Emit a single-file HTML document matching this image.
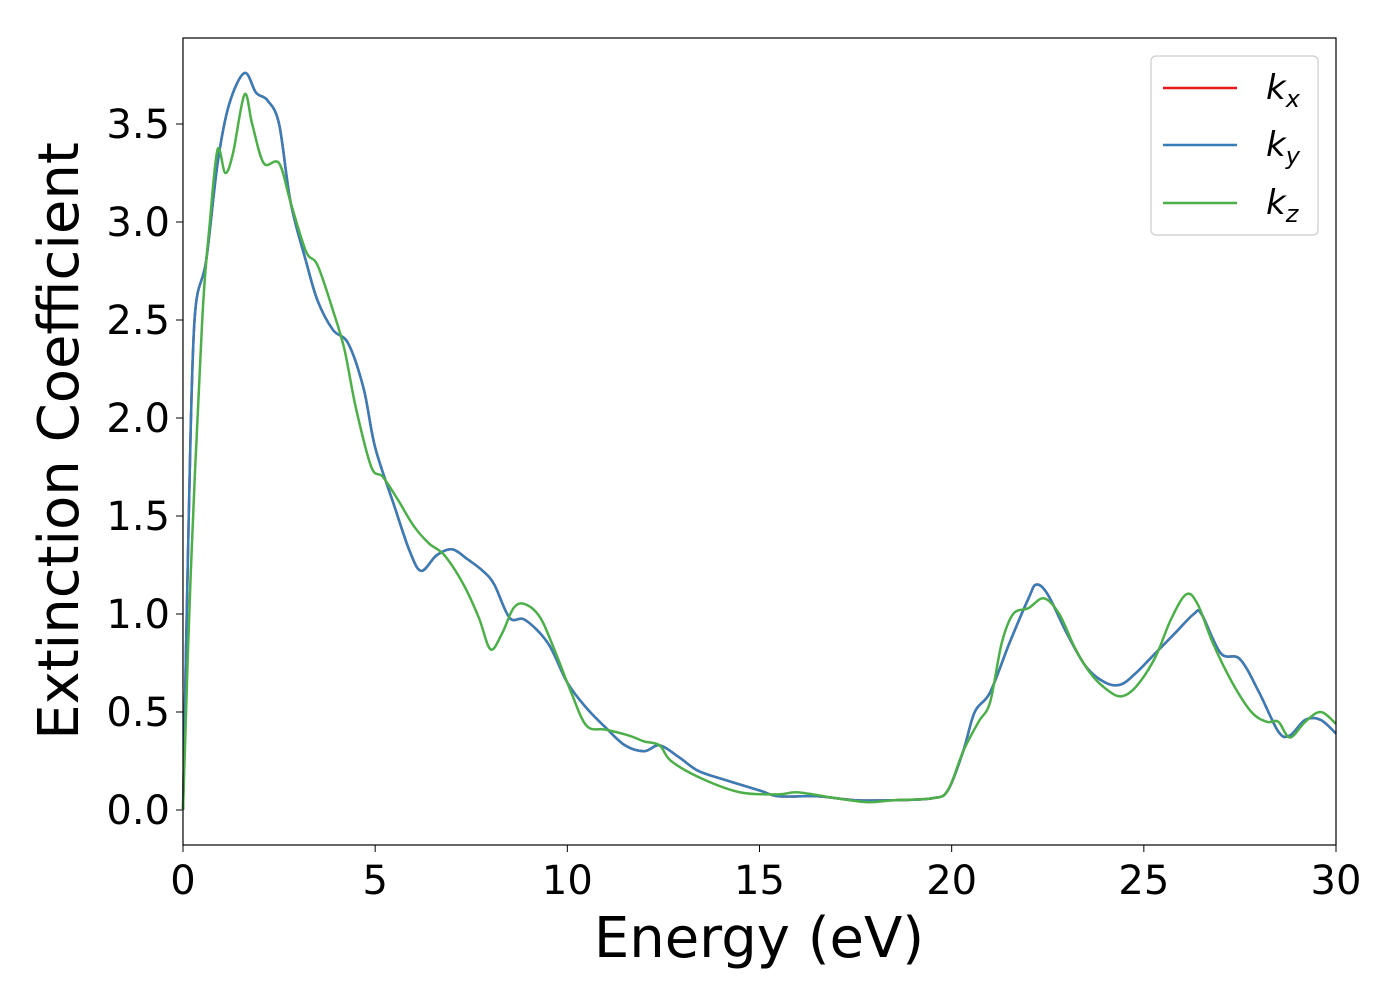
<!DOCTYPE html>
<html><head><meta charset="utf-8"><style>
html,body{margin:0;padding:0;background:#fff;}
svg text{font-family:"DejaVu Sans","Liberation Sans",sans-serif;}
</style></head><body>
<svg width="1400" height="1000" xmlns="http://www.w3.org/2000/svg" id="chart">
<rect width="1400" height="1000" fill="#fff"/>
<g id="ticks"></g>
<g id="series"></g>
<rect x="183" y="38" width="1153" height="807" fill="none" stroke="#000" stroke-width="1.2"/>
<text x="759" y="957" font-size="56" text-anchor="middle">Energy (eV)</text>
<text transform="translate(78,441) rotate(-90)" font-size="56" text-anchor="middle">Extinction Coefficient</text>
<g>
<rect x="1151" y="56" width="167" height="179" rx="5" fill="#fff" stroke="#ccc" stroke-width="1.2"/>
<line x1="1163" y1="88" x2="1237" y2="88" stroke="#e41a1c" stroke-width="2.5"/>
<text x="1266" y="99" font-size="34" font-style="italic">k<tspan font-size="24" dy="8">x</tspan></text>
<line x1="1163" y1="145" x2="1237" y2="145" stroke="#377eb8" stroke-width="2.5"/>
<text x="1266" y="156" font-size="34" font-style="italic">k<tspan font-size="24" dy="8">y</tspan></text>
<line x1="1163" y1="203" x2="1237" y2="203" stroke="#4daf4a" stroke-width="2.5"/>
<text x="1266" y="214" font-size="34" font-style="italic">k<tspan font-size="24" dy="8">z</tspan></text>
</g>
</svg>
<script>
const xTicks=[0,5,10,15,20,25,30];
const yTicks=[0.0,0.5,1.0,1.5,2.0,2.5,3.0,3.5];
const energyXY=[0,0.15,0.3,0.6,0.9,1.2,1.6,1.9,2.2,2.5,2.8,3.2,3.5,3.9,4.3,4.7,5.0,5.5,5.9,6.2,6.6,7.0,7.4,7.8,8.1,8.5,8.9,9.5,10.0,10.5,11.0,11.5,12.0,12.4,12.9,13.4,14.0,15.0,15.5,16.5,17.5,18.5,19.5,19.9,20.3,20.6,21.0,21.5,22.0,22.2,22.5,23.0,23.5,24.0,24.4,24.8,25.3,25.8,26.3,26.5,27.0,27.5,28.0,28.5,28.8,29.2,29.6,30];
const kx=[0,1.5,2.5,2.8,3.3,3.6,3.76,3.66,3.62,3.5,3.1,2.8,2.6,2.45,2.38,2.15,1.85,1.55,1.32,1.22,1.3,1.33,1.28,1.22,1.15,0.98,0.97,0.85,0.65,0.52,0.42,0.33,0.3,0.33,0.27,0.2,0.16,0.1,0.07,0.07,0.05,0.05,0.06,0.1,0.3,0.5,0.6,0.85,1.08,1.15,1.1,0.9,0.73,0.65,0.64,0.7,0.8,0.9,1.0,1.0,0.8,0.77,0.6,0.4,0.38,0.46,0.46,0.39];
const ky=kx.slice();
const energyZ=[0,0.2,0.5,0.7,0.9,1.1,1.3,1.6,1.8,2.1,2.5,2.8,3.2,3.5,3.9,4.2,4.5,4.9,5.2,5.6,6.0,6.4,6.8,7.3,7.7,8.0,8.3,8.6,8.9,9.3,9.7,10.1,10.5,11.0,11.6,12.0,12.4,12.7,13.5,14.5,15.5,16.0,17.0,17.8,18.5,19.5,19.9,20.3,20.7,21.0,21.3,21.6,22.0,22.4,22.8,23.2,23.6,24.0,24.4,24.8,25.3,25.7,26.1,26.4,26.8,27.3,27.8,28.2,28.5,28.8,29.2,29.6,30];
const kz=[0,1.2,2.5,3.0,3.37,3.25,3.35,3.65,3.5,3.3,3.3,3.1,2.85,2.78,2.55,2.35,2.05,1.75,1.7,1.58,1.45,1.36,1.3,1.15,0.98,0.82,0.9,1.03,1.05,0.98,0.8,0.6,0.43,0.41,0.38,0.35,0.33,0.25,0.16,0.09,0.08,0.09,0.06,0.04,0.05,0.06,0.1,0.3,0.45,0.55,0.85,1.0,1.03,1.08,1.0,0.83,0.7,0.62,0.58,0.63,0.78,0.97,1.1,1.05,0.85,0.65,0.5,0.45,0.45,0.37,0.45,0.5,0.44];
const NS='http://www.w3.org/2000/svg';
function sx(v){return 183+v*(1153/30);}
function sy(v){return 810-v*196;}
const tg=document.getElementById('ticks');
xTicks.forEach(t=>{
 const l=document.createElementNS(NS,'line');
 
 
 l.setAttribute('x1',sx(t));l.setAttribute('x2',sx(t));l.setAttribute('y1',845);l.setAttribute('y2',852);l.setAttribute('stroke','#000');tg.appendChild(l);
 const tx=document.createElementNS(NS,'text');
 
 
 tx.setAttribute('x',sx(t));tx.setAttribute('y',894);tx.setAttribute('font-size','40');tx.setAttribute('text-anchor','middle');tx.textContent=t;tg.appendChild(tx);
});
yTicks.forEach(t=>{
 const l=document.createElementNS(NS,'line');
 
 
 l.setAttribute('x1',176);l.setAttribute('x2',183);l.setAttribute('y1',sy(t));l.setAttribute('y2',sy(t));l.setAttribute('stroke','#000');tg.appendChild(l);
 const tx=document.createElementNS(NS,'text');
 
 
 tx.setAttribute('x',170);tx.setAttribute('y',sy(t)+14);tx.setAttribute('font-size','40');tx.setAttribute('text-anchor','end');tx.textContent=t.toFixed(1);tg.appendChild(tx);
});
function pathFor(xs,ys){
 const p=xs.map((x,i)=>[sx(x),sy(ys[i])]);
 let d='M'+p[0][0]+','+p[0][1];
 for(let i=0;i<p.length-1;i++){
  const p0=p[Math.max(0,i-1)],p1=p[i],p2=p[i+1],p3=p[Math.min(p.length-1,i+2)];
  const c1=[p1[0]+(p2[0]-p0[0])/6,p1[1]+(p2[1]-p0[1])/6];
  const c2=[p2[0]-(p3[0]-p1[0])/6,p2[1]-(p3[1]-p1[1])/6];
  d+=' C'+c1[0]+','+c1[1]+' '+c2[0]+','+c2[1]+' '+p2[0]+','+p2[1];
 }
 return d;
}
const sg=document.getElementById('series');
[[energyXY,kx,'#e41a1c','series-kx'],[energyXY,ky,'#377eb8','series-ky'],[energyZ,kz,'#4daf4a','series-kz']].forEach(s=>{
 const pa=document.createElementNS(NS,'path');
 
 
 pa.setAttribute('d',pathFor(s[0],s[1]));pa.setAttribute('fill','none');pa.setAttribute('stroke',s[2]);pa.setAttribute('stroke-width','2.5');
 sg.appendChild(pa);
});
</script>
</body></html>
